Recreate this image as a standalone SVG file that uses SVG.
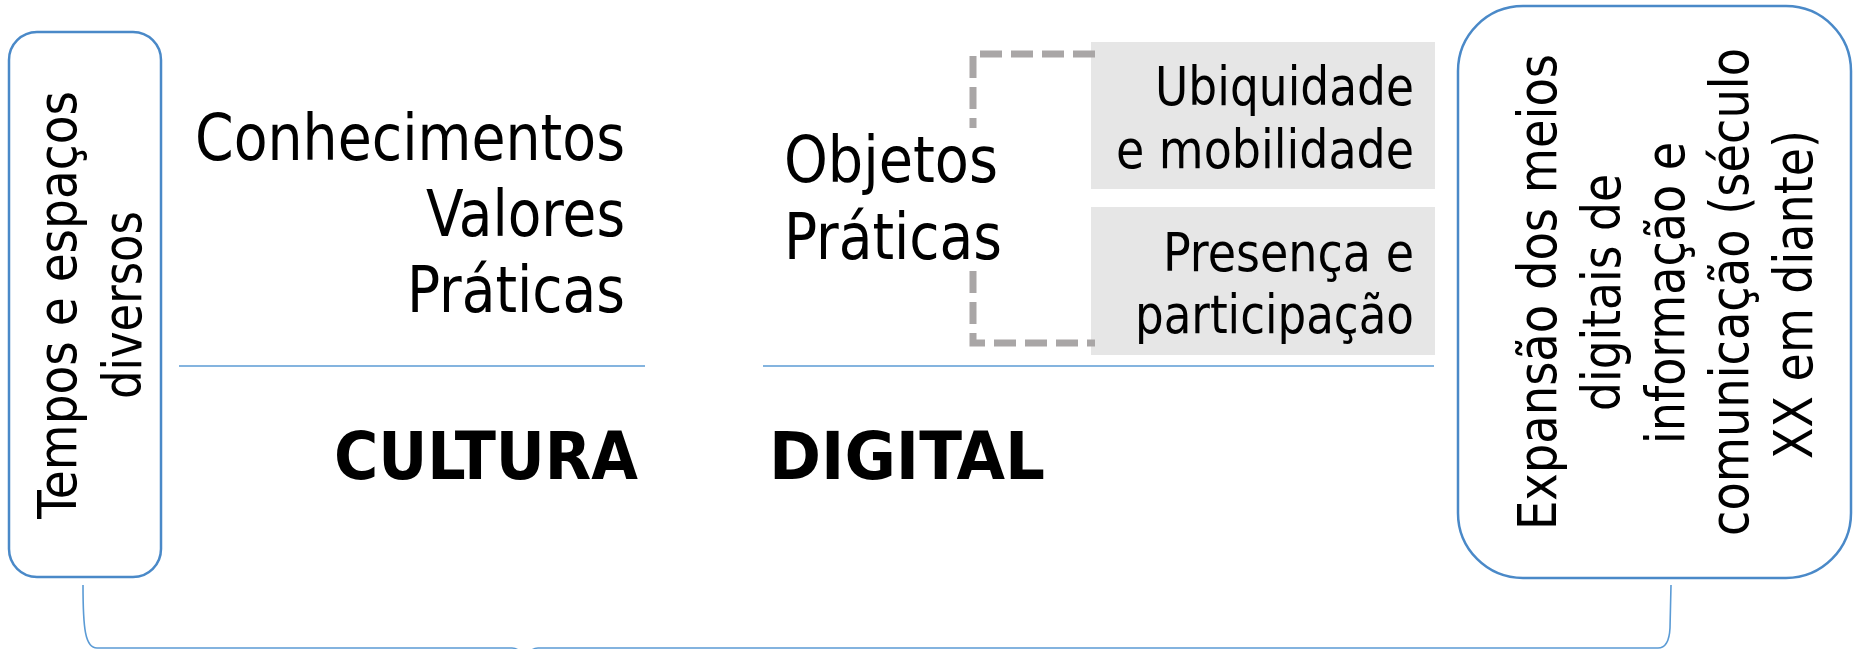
<svg xmlns="http://www.w3.org/2000/svg" width="1854" height="649" viewBox="0 0 1854 649">
<style>
.t{font-family:"DejaVu Sans Condensed","DejaVu Sans",Verdana,sans-serif;font-stretch:condensed;fill:#000}
.b{font-family:"DejaVu Sans Condensed","DejaVu Sans",Verdana,sans-serif;font-stretch:condensed;font-weight:bold;fill:#000}
.box{fill:#fff;stroke:#4A89C8;stroke-width:2.5}
.gray{fill:#E6E6E6}
.rule{stroke:#5B9BD5;stroke-width:1.6;fill:none}
.dash{stroke:#A9A6A6;stroke-width:7;fill:none;stroke-dasharray:22 9}
</style>
<rect width="1854" height="649" fill="#fff"/>
<g id="tempos">
<rect class="box" x="9" y="32" width="152" height="545" rx="28"/>
<g transform="translate(85,305) rotate(-90)">
<text class="t" font-size="52.5" x="-214" y="-9" textLength="428" lengthAdjust="spacingAndGlyphs">Tempos e espaços</text>
<text class="t" font-size="52.5" x="-94" y="56" textLength="188" lengthAdjust="spacingAndGlyphs">diversos</text>
</g>
</g>
<g id="cultura">
<text class="t" font-size="64" x="195" y="160" textLength="430" lengthAdjust="spacingAndGlyphs">Conhecimentos</text>
<text class="t" font-size="64" x="426" y="236" textLength="199" lengthAdjust="spacingAndGlyphs">Valores</text>
<text class="t" font-size="64" x="407" y="312" textLength="218" lengthAdjust="spacingAndGlyphs">Práticas</text>
<text class="b" font-size="65" x="334" y="479" textLength="304" lengthAdjust="spacingAndGlyphs">CULTURA</text>
</g>
<g id="digital">
<text class="t" font-size="64" x="784" y="182" textLength="214" lengthAdjust="spacingAndGlyphs">Objetos</text>
<text class="t" font-size="64" x="784" y="259" textLength="218" lengthAdjust="spacingAndGlyphs">Práticas</text>
<text class="b" font-size="65" x="769" y="479" textLength="276" lengthAdjust="spacingAndGlyphs">DIGITAL</text>
</g>
<g id="ubiquidade">
<rect class="gray" x="1091" y="42" width="344" height="147"/>
<text class="t" font-size="53" x="1155" y="105" textLength="259" lengthAdjust="spacingAndGlyphs">Ubiquidade</text>
<text class="t" font-size="53" x="1116" y="168" textLength="298" lengthAdjust="spacingAndGlyphs">e mobilidade</text>
</g>
<g id="presenca">
<rect class="gray" x="1091" y="207" width="344" height="148"/>
<text class="t" font-size="53" x="1163" y="271" textLength="251" lengthAdjust="spacingAndGlyphs">Presença e</text>
<text class="t" font-size="53" x="1135" y="333" textLength="279" lengthAdjust="spacingAndGlyphs">participação</text>
</g>
<g id="expansao">
<rect class="box" x="1458" y="6" width="393" height="572" rx="65"/>
<g transform="translate(1655,292) rotate(-90)">
<text class="t" font-size="53" x="-238" y="-99" textLength="476" lengthAdjust="spacingAndGlyphs">Expansão dos meios</text>
<text class="t" font-size="53" x="-119" y="-35" textLength="237" lengthAdjust="spacingAndGlyphs">digitais de</text>
<text class="t" font-size="53" x="-152" y="29" textLength="302" lengthAdjust="spacingAndGlyphs">informação e</text>
<text class="t" font-size="53" x="-244" y="93" textLength="488" lengthAdjust="spacingAndGlyphs">comunicação (século</text>
<text class="t" font-size="53" x="-167" y="157" textLength="329" lengthAdjust="spacingAndGlyphs">XX em diante)</text>
</g>
</g>
<g id="connectors">
<path class="rule" d="M179,366 H645"/>
<path class="rule" d="M763,366 H1434"/>
<path class="dash" d="M1095,54 H973 V128"/>
<path class="dash" d="M973,271 V343 H1095"/>
<path class="rule" d="M83,585 C83,628 85,648 97,648 H512 Q521,648 525,662 Q529,648 538,648 H1658 Q1669,648 1670,628 L1671,585"/>
</g>
</svg>
